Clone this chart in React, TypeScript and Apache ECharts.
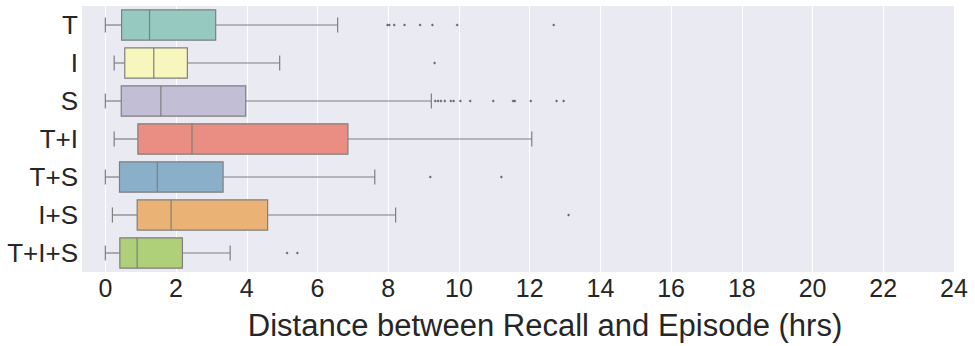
import React, { useEffect, useRef } from "react";
import * as echarts from "echarts";

const categories = ["T", "I", "S", "T+I", "T+S", "I+S", "T+I+S"];
const whiskerLow = [0, 0.25, 0, 0.25, 0, 0.2, 0];
const q1 = [0.46, 0.55, 0.45, 0.92, 0.4, 0.9, 0.41];
const median = [1.25, 1.37, 1.57, 2.45, 1.47, 1.86, 0.9];
const q3 = [3.12, 2.32, 3.97, 6.86, 3.33, 4.59, 2.18];
const whiskerHigh = [6.57, 4.93, 9.22, 12.06, 7.62, 8.21, 3.53];
const outliers: number[][] = [
  [7.98, 8.03, 8.17, 8.46, 8.9, 9.25, 9.95, 12.68],
  [9.31],
  [9.33, 9.41, 9.49, 9.6, 9.77, 9.85, 10.04, 10.32, 10.97, 11.53, 11.58, 12.03, 12.76, 12.96],
  [],
  [9.19, 11.2],
  [13.1],
  [5.14, 5.43],
];
const boxColors = ["#96cac1", "#f6f6bd", "#c1bed6", "#ea8e83", "#8aafc9", "#eab375", "#afcf78"];
const xTicks = [0, 2, 4, 6, 8, 10, 12, 14, 16, 18, 20, 22, 24];
const xLabel = "Distance between Recall and Episode (hrs)";

const LINE = "#7f7f7f";
const FONT = "'Liberation Sans', Arial, sans-serif";

export default function App() {
  const ref = useRef<HTMLDivElement>(null);
  useEffect(() => {
    document.body.style.margin = "0";
    if (!ref.current) return;
    const chart = echarts.init(ref.current, null, { renderer: "svg" });
    const boxData = categories.map((_, i) => [whiskerLow[i], q1[i], median[i], q3[i], whiskerHigh[i], i]);
    const outlierData: number[][] = [];
    outliers.forEach((arr, i) => arr.forEach((v) => outlierData.push([v, i])));

    chart.setOption({
      animation: false,
      grid: {
        left: 82,
        top: 6,
        right: 21,
        bottom: 56,
        show: true,
        backgroundColor: "#eaeaf2",
        borderWidth: 0,
      },
      xAxis: {
        type: "value",
        min: -0.66,
        max: 24,
        axisLine: { show: false },
        axisTick: { show: false, customValues: xTicks },
        axisLabel: {
          customValues: xTicks,
          fontFamily: FONT,
          fontSize: 25,
          color: "#262626",
          margin: 3,
        },
        splitLine: { show: true, lineStyle: { color: "#ffffff", width: 1 } },
        name: xLabel,
        nameLocation: "middle",
        nameGap: 38,
        nameTextStyle: { fontFamily: FONT, fontSize: 31, color: "#262626", padding: [0, 0, 0, 54] },
      },
      yAxis: {
        type: "category",
        data: categories,
        inverse: true,
        axisLine: { show: false },
        axisTick: { show: false },
        splitLine: { show: false },
        axisLabel: { fontFamily: FONT, fontSize: 26, color: "#262626", margin: 4 },
      },
      series: [
        {
          type: "custom",
          encode: { x: [0, 1, 2, 3, 4], y: 5 },
          data: boxData,
          renderItem: (params: any, api: any) => {
            const idx = api.value(5);
            const pLo = api.coord([api.value(0), idx]);
            const pQ1 = api.coord([api.value(1), idx]);
            const pMed = api.coord([api.value(2), idx]);
            const pQ3 = api.coord([api.value(3), idx]);
            const pHi = api.coord([api.value(4), idx]);
            const band = api.size([0, 1])[1];
            const half = (band * 0.8) / 2;
            const cap = half / 2;
            const y = pMed[1];
            const ls = { stroke: LINE, lineWidth: 1.2 };
            return {
              type: "group",
              children: [
                { type: "line", shape: { x1: pLo[0], y1: y, x2: pQ1[0], y2: y }, style: ls },
                { type: "line", shape: { x1: pQ3[0], y1: y, x2: pHi[0], y2: y }, style: ls },
                { type: "line", shape: { x1: pLo[0], y1: y - cap, x2: pLo[0], y2: y + cap }, style: ls },
                { type: "line", shape: { x1: pHi[0], y1: y - cap, x2: pHi[0], y2: y + cap }, style: ls },
                {
                  type: "rect",
                  shape: { x: pQ1[0], y: y - half, width: pQ3[0] - pQ1[0], height: half * 2 },
                  style: { fill: boxColors[params.dataIndex], stroke: LINE, lineWidth: 1.2 },
                },
                { type: "line", shape: { x1: pMed[0], y1: y - half, x2: pMed[0], y2: y + half }, style: ls },
              ],
            };
          },
        },
        {
          type: "scatter",
          data: outlierData,
          symbol: "diamond",
          symbolSize: [3, 3],
          itemStyle: { color: "#4a4a4a" },
        },
      ],
    });
    return () => chart.dispose();
  }, []);
  return <div ref={ref} style={{ width: 975, height: 346 }} />;
}
